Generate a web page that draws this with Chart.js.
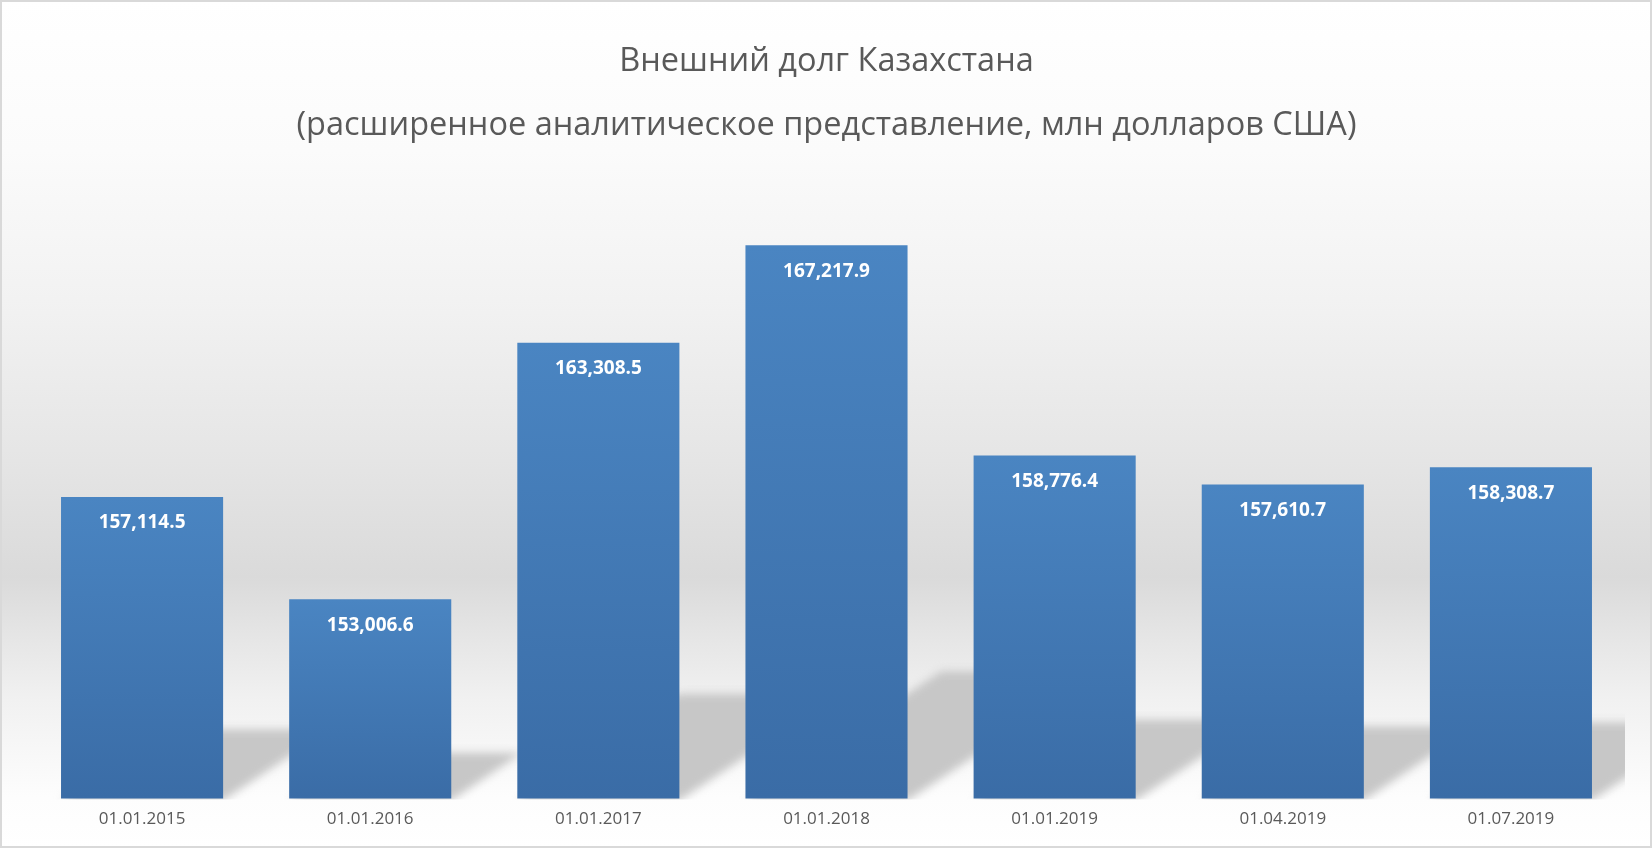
<!DOCTYPE html>
<html>
<head>
<meta charset="utf-8">
<script src="https://cdn.jsdelivr.net/npm/chart.js@4"></script>
<style>
  body { margin: 0; background: #fff; }
  #wrap { width: 1652px; height: 848px; position: relative; }
</style>
</head>
<body>
<div id="wrap"><canvas id="debtChart"></canvas></div>
<script>
// Внешний долг Казахстана, млн долларов США
const dates = ['01.01.2015', '01.01.2016', '01.01.2017', '01.01.2018', '01.01.2019', '01.04.2019', '01.07.2019'];
const debt = [157114.5, 153006.6, 163308.5, 167217.9, 158776.4, 157610.7, 158308.7];
const titleLines = ['Внешний долг Казахстана', '(расширенное аналитическое представление, млн долларов США)'];
const yMin = 145000;
const yMax = 170000;

// skewed floor shadows behind the bars
function drawShadows(chart) {
  const c = chart.ctx;
  const area = chart.chartArea;
  const meta = chart.getDatasetMeta(0);
  if (!area || !meta.data.length) return;
  const base = chart.scales.y.getPixelForValue(yMin);
  c.save();
  c.beginPath();
  c.rect(area.left, area.top, area.right - area.left, area.bottom - area.top + 1);
  c.clip();
  c.filter = 'blur(4px)';
  c.fillStyle = '#c7c7c7';
  meta.data.forEach(bar => {
    const x0 = bar.x - bar.width / 2;
    const x1 = bar.x + bar.width / 2;
    const t = (base - bar.y) * 0.23;
    const dx = t / 0.65;
    c.beginPath();
    c.moveTo(x0, base + 2);
    c.lineTo(x1, base + 2);
    c.lineTo(x1 + dx, base - t);
    c.lineTo(x0 + dx, base - t);
    c.closePath();
    c.fill();
  });
  c.restore();
}

// page background, floor shadows, frame
const backdrop = {
  id: 'backdrop',
  beforeDraw(chart) {
    const c = chart.ctx;
    const h = chart.height;
    const g = c.createLinearGradient(0, 0, 0, h);
    g.addColorStop(0, '#ffffff');
    g.addColorStop(150 / h, '#fbfbfb');
    g.addColorStop(300 / h, '#f2f2f2');
    g.addColorStop(450 / h, '#e6e6e6');
    g.addColorStop(577 / h, '#dadada');
    g.addColorStop(640 / h, '#e6e6e6');
    g.addColorStop(700 / h, '#f1f1f1');
    g.addColorStop(797 / h, '#fdfdfd');
    g.addColorStop(1, '#ffffff');
    c.save();
    c.fillStyle = g;
    c.fillRect(0, 0, chart.width, h);
    c.restore();
    drawShadows(chart);
  },
  afterDraw(chart) {
    const c = chart.ctx;
    c.save();
    c.strokeStyle = '#d9d9d9';
    c.lineWidth = 2;
    c.strokeRect(1, 1, chart.width - 2, chart.height - 2);
    c.restore();
  }
};

// value labels inside the top of each bar
const barLabels = {
  id: 'barLabels',
  afterDatasetsDraw(chart) {
    const c = chart.ctx;
    const bars = chart.getDatasetMeta(0).data;
    c.save();
    c.fillStyle = '#ffffff';
    c.font = 'bold 19px "Open Sans"';
    c.textAlign = 'center';
    c.textBaseline = 'middle';
    bars.forEach((bar, i) => {
      const txt = debt[i].toLocaleString('en-US', { minimumFractionDigits: 1, maximumFractionDigits: 1 });
      c.fillText(txt, bar.x, bar.y + 26);
    });
    c.restore();
  }
};

const ctx = document.getElementById('debtChart').getContext('2d');
const chart = new Chart(ctx, {
  type: 'bar',
  data: {
    labels: dates,
    datasets: [{
      data: debt,
      backgroundColor(context) {
        const ch = context.chart;
        if (!ch.chartArea) return '#4479b5';
        const ys = ch.scales.y;
        const top = ys.getPixelForValue(context.raw);
        const bottom = ys.getPixelForValue(yMin);
        const g = ch.ctx.createLinearGradient(0, top, 0, bottom);
        g.addColorStop(0, '#4a85c2');
        g.addColorStop(1, '#3a6ca6');
        return g;
      },
      borderWidth: 0,
      barPercentage: 0.7105,
      categoryPercentage: 1
    }]
  },
  options: {
    responsive: true,
    maintainAspectRatio: false,
    animation: false,
    layout: {
      padding: { left: 28, right: 27, top: 0, bottom: 9 }
    },
    plugins: {
      legend: { display: false },
      tooltip: { enabled: false },
      title: {
        display: true,
        text: titleLines,
        color: '#595959',
        font: { family: 'Open Sans', size: 32.5, weight: 'normal', lineHeight: 1.97 },
        padding: { top: 30, bottom: 18 }
      }
    },
    scales: {
      y: {
        display: false,
        min: yMin,
        max: yMax
      },
      x: {
        grid: { display: false, drawTicks: false },
        border: { display: false },
        ticks: {
          color: '#595959',
          padding: 10,
          font: { family: 'Open Sans', size: 17 }
        }
      }
    }
  },
  plugins: [backdrop, barLabels]
});
</script>
</body>
</html>
